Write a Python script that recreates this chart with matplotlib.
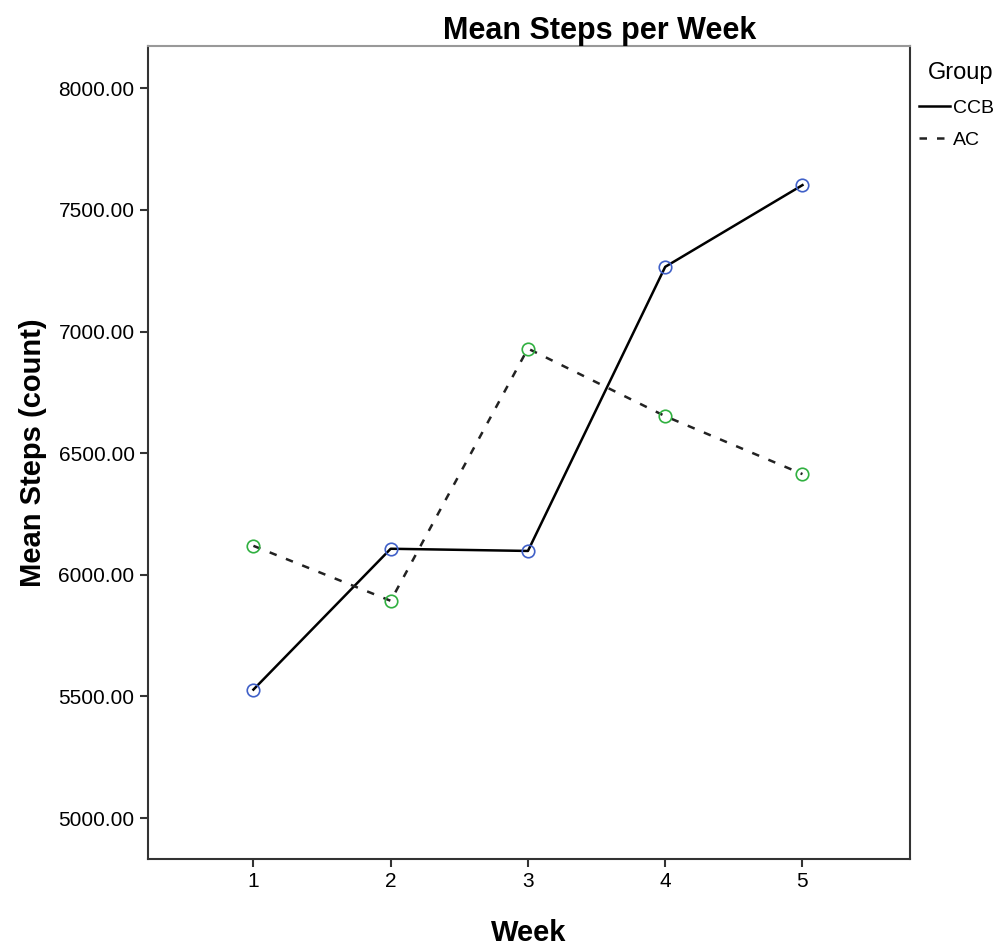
import matplotlib
matplotlib.use("Agg")
import matplotlib.pyplot as plt

plt.rcParams['font.family'] = ['Liberation Sans', 'DejaVu Sans']

weeks = [1, 2, 3, 4, 5]
ccb = [5528, 6107, 6098, 7266, 7602]
ac = [6119, 5893, 6930, 6652, 6414]
yticks = [5000, 5500, 6000, 6500, 7000, 7500, 8000]

fig = plt.figure(figsize=(10.05, 9.48), dpi=100)
ax = fig.add_axes([0.147, 0.094, 0.758, 0.857])

ax.plot(weeks, ccb, '-', color='black', lw=1.8, label='CCB')
ax.plot(weeks, ac, linestyle=(0, (3, 4)), color='#222222', lw=1.8, label='AC')
ax.plot(weeks, ccb, 'o', ms=9, mfc='none', mec='#4060c8', mew=1.2)
ax.plot(weeks, ac, 'o', ms=9, mfc='none', mec='#30b040', mew=1.2)

ax.set_xlim(0.23, 5.78)
ax.set_ylim(4832, 8172)
ax.set_xticks(weeks)
ax.set_yticks(yticks)
ax.set_yticklabels(['%.2f' % v for v in yticks])
ax.tick_params(labelsize=15, length=6, width=1.5, color='#333333')

for s in ax.spines.values():
    s.set_linewidth(1.5)
    s.set_color('#333333')
ax.spines['top'].set_color('#999999')

ax.set_title('Mean Steps per Week', fontsize=22, fontweight='bold', pad=5,
             x=0.593)
ax.set_xlabel('Week', fontsize=21, fontweight='bold', labelpad=20)
ax.set_ylabel('Mean Steps (count)', fontsize=21, fontweight='bold', labelpad=8)

leg = ax.legend(loc='upper left', bbox_to_anchor=(1.002, 0.99), frameon=False,
                title='Group', fontsize=14, handlelength=1.6, handletextpad=0.15,
                borderaxespad=0, labelspacing=0.75)
leg.get_title().set_fontsize(17)
leg._legend_box.align = 'right'

fig.savefig('out.png', dpi=100)
